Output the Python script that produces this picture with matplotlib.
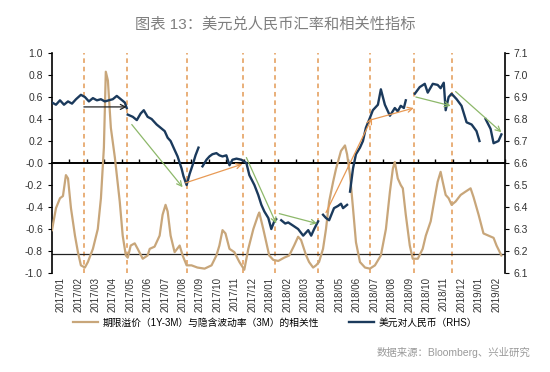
import matplotlib
matplotlib.use('Agg')
import matplotlib.pyplot as plt
import numpy as np

plt.rcParams['font.family'] = ['Liberation Sans', 'Noto Sans CJK SC']
plt.rcParams['axes.unicode_minus'] = False

nan = np.nan

# x axis: months, 0 = 2017/01
month_labels = ['2017/01', '2017/02', '2017/03', '2017/04', '2017/05', '2017/06',
                '2017/07', '2017/08', '2017/09', '2017/10', '2017/11', '2017/12',
                '2018/01', '2018/02', '2018/03', '2018/04', '2018/05', '2018/06',
                '2018/07', '2018/08', '2018/09', '2018/10', '2018/11', '2018/12',
                '2019/01', '2019/02']

# correlation: term premium (1Y-3M) vs implied vol (3M), left axis
corr_t = [-0.50, -0.27, -0.04, 0.13, 0.30, 0.42, 0.59, 0.82, 0.99, 1.16, 1.39, 1.56,
          1.85, 2.13, 2.31, 2.48, 2.59, 2.71, 2.88, 3.11, 3.39, 3.56, 3.74, 3.85,
          4.02, 4.25, 4.42, 4.71, 4.99, 5.11, 5.39, 5.68, 5.85, 6.02, 6.14, 6.31,
          6.54, 6.83, 7.00, 7.23, 7.51, 7.85, 8.26, 8.66, 8.94, 9.11, 9.29, 9.46,
          9.69, 9.97, 10.26, 10.54, 10.77, 11.06, 11.34, 11.40, 11.63, 11.80, 11.97,
          12.20, 12.49, 12.83, 13.12, 13.40, 13.63, 13.80, 14.09, 14.26, 14.49, 14.66,
          14.83, 15.06, 15.23, 15.41, 15.64, 15.81, 16.09, 16.32, 16.44, 16.61, 16.78,
          16.95, 17.18, 17.47, 17.75, 18.04, 18.38, 18.67, 18.90, 19.07, 19.18, 19.35,
          19.52, 19.64, 19.81, 20.04, 20.21, 20.50, 20.78, 20.96, 21.24, 21.47, 21.64,
          21.81, 21.93, 22.10, 22.27, 22.44, 22.67, 22.96, 23.24, 23.53, 23.70, 23.99,
          24.27, 24.56, 24.85, 25.02, 25.30]
corr_v = [-0.61, -0.41, -0.32, -0.30, -0.11, -0.14, -0.41, -0.66, -0.81, -0.93, -0.95, -0.90,
          -0.78, -0.60, -0.32, 0.14, 0.83, 0.75, 0.32, 0.05, -0.35, -0.66, -0.84, -0.86,
          -0.75, -0.73, -0.78, -0.87, -0.84, -0.78, -0.76, -0.66, -0.47, -0.38, -0.44, -0.66,
          -0.81, -0.75, -0.84, -0.93, -0.93, -0.95, -0.96, -0.93, -0.84, -0.75, -0.61, -0.64,
          -0.78, -0.81, -0.90, -0.97, -0.78, -0.60, -0.47, -0.45, -0.60, -0.72, -0.84,
          -0.88, -0.89, -0.86, -0.84, -0.75, -0.67, -0.70, -0.84, -0.90, -0.95, -0.93,
          -0.90, -0.78, -0.60, -0.35, -0.17, -0.05, 0.11, 0.16, 0.08, -0.11, -0.41,
          -0.72, -0.90, -0.95, -0.96, -0.93, -0.84, -0.60, -0.26, -0.05, 0.01, -0.14,
          -0.20, -0.23, -0.47, -0.75, -0.87, -0.87, -0.78, -0.66, -0.53, -0.32, -0.17,
          -0.08, -0.17, -0.29, -0.32, -0.38, -0.35, -0.29, -0.26, -0.23, -0.31, -0.47,
          -0.64, -0.66, -0.68, -0.75, -0.84]

# USD/CNY, right axis (nan = gap in the series)
fx_t = [-0.50, -0.27, -0.04, 0.19, 0.42, 0.65, 0.88, 1.16, 1.39, 1.62, 1.85, 2.08,
        2.31, 2.53, 2.76, 2.99, 3.22, 3.45, 3.68, 3.79, nan,
        3.85, 4.14, 4.37, 4.59, 4.77, 4.99, 5.22, 5.51, 5.74, 5.97, 6.14, 6.31,
        6.48, 6.71, 6.94, 7.05, 7.23, 7.40, 7.57, 7.74, 7.91, nan,
        8.14, 8.37, 8.54, 8.71, 8.94, 9.11, 9.29, 9.51, 9.69, 9.86, 10.09, 10.37,
        10.66, 10.83, 11.12, 11.34, 11.52, 11.69, 11.92, 12.09, 12.26, 12.37, nan,
        12.66, 12.89, 13.06, 13.35, 13.63, 13.92, 14.21, 14.38, 14.55, 14.78, nan,
        15.06, 15.23, 15.41, 15.69, 15.92, 16.09, 16.21, 16.44, nan,
        16.61, 16.78, 16.95, 17.18, 17.35, 17.52, 17.75, 17.92, 18.21, 18.38, 18.61,
        18.90, 19.18, 19.35, 19.52, 19.70, 19.81, nan,
        20.33, 20.61, 20.90, 21.07, 21.36, 21.64, 21.81, 21.99, 22.10, 22.27, 22.44,
        22.73, 23.01, 23.30, 23.59, 23.87, 24.04, nan,
        24.39, 24.68, 24.85, 25.13, 25.30]
fx_v = [6.875, 6.865, 6.885, 6.865, 6.88, 6.87, 6.89, 6.91, 6.90, 6.88, 6.895, 6.885,
        6.89, 6.88, 6.885, 6.89, 6.905, 6.89, 6.875, 6.85, nan,
        6.82, 6.81, 6.795, 6.825, 6.84, 6.81, 6.80, 6.775, 6.76, 6.745, 6.715, 6.70,
        6.67, 6.63, 6.575, 6.54, 6.50, 6.55, 6.59, 6.635, 6.67, nan,
        6.585, 6.615, 6.63, 6.64, 6.645, 6.635, 6.63, 6.635, 6.59, 6.615, 6.62, 6.615,
        6.60, 6.545, 6.50, 6.455, 6.41, 6.38, 6.35, 6.30, 6.335, 6.345, nan,
        6.34, 6.325, 6.33, 6.315, 6.30, 6.27, 6.295, 6.27, 6.30, 6.335, nan,
        6.365, 6.35, 6.34, 6.395, 6.405, 6.415, 6.395, 6.41, nan,
        6.47, 6.575, 6.64, 6.67, 6.70, 6.76, 6.805, 6.84, 6.865, 6.935, 6.865,
        6.815, 6.85, 6.835, 6.86, 6.85, 6.885, nan,
        6.915, 6.945, 6.96, 6.92, 6.96, 6.955, 6.94, 6.965, 6.84, 6.90, 6.915,
        6.89, 6.86, 6.785, 6.775, 6.745, 6.70, nan,
        6.80, 6.755, 6.69, 6.70, 6.73]

# dashed turning-point markers (month index)
turn_t = [1.33, 3.81, 7.24, 10.46, 12.32, 14.79, 17.73, 20.31, 22.46]
ref_level = -0.83

# trend arrows (start t, start v, end t, end v, colour), left-axis units
arrows = [
    (1.33, 0.51, 3.79, 0.51, 'black'),
    (4.08, 0.35, 7.00, -0.22, 'green'),
    (7.17, -0.18, 10.43, -0.01, 'orange'),
    (10.66, 0.05, 12.37, -0.55, 'green'),
    (12.55, -0.46, 14.72, -0.55, 'green'),
    (15.23, -0.45, 17.87, 0.41, 'orange'),
    (17.75, 0.39, 20.27, 0.50, 'orange'),
    (20.39, 0.60, 22.39, 0.52, 'green'),
    (22.67, 0.65, 25.30, 0.28, 'green'),
]
arrow_colors = {'black': '#222222', 'green': '#8DB86A', 'orange': '#E89A55'}

TAN = '#C8A67A'
NAVY = '#1B3A5C'
DASH = '#E39A55'

fig = plt.figure(figsize=(5.5, 3.72), dpi=100)
ax = fig.add_axes([0.0945, 0.266, 0.8235, 0.5915])
ax2 = ax.twinx()

ax.set_xlim(-0.5, 25.42)
ax.set_ylim(-1.0, 1.0)
ax2.set_ylim(6.1, 7.1)

for t in turn_t:
    ax.axvline(t, color=DASH, lw=1.1, ls=(0, (3, 2.5)), zorder=1)
ax.axhline(ref_level, color='#222222', lw=0.9, zorder=2)
ax.plot(corr_t, corr_v, color=TAN, lw=1.6, zorder=3)

ax2.plot(fx_t, fx_v, color=NAVY, lw=1.7, zorder=3)

for x0, y0, x1, y1, c in arrows:
    ax2.annotate('', xy=(x1, y1), xytext=(x0, y0),
                 xycoords=ax.transData, textcoords=ax.transData,
                 arrowprops=dict(arrowstyle='->', color=arrow_colors[c], lw=0.9,
                                 mutation_scale=9, shrinkA=0, shrinkB=0))

# zero line acts as the x axis with small upward ticks
for a in (ax, ax2):
    a.spines['top'].set_visible(False)
ax.spines['right'].set_visible(False)
ax2.spines['left'].set_visible(False)
ax2.spines['bottom'].set_visible(False)
ax.spines['bottom'].set_position(('data', 0))
ax.spines['bottom'].set_linewidth(1.4)
ax.set_xticks(np.arange(26) + 0.5)
ax.tick_params(axis='x', direction='in', length=3, width=1, labelbottom=False)

sec = ax.secondary_xaxis('bottom')
sec.set_xticks(np.arange(26), month_labels)
sec.tick_params(axis='x', length=0, labelsize=7, rotation=90, pad=3, labelcolor='#333333')
sec.spines['bottom'].set_visible(False)

ax.set_yticks(np.arange(-1.0, 1.01, 0.2))
ax.yaxis.set_major_formatter(matplotlib.ticker.FormatStrFormatter('%.1f'))
ax.tick_params(axis='y', direction='out', length=3, labelsize=7.5, labelcolor='#333333')
ax2.set_yticks(np.arange(6.1, 7.11, 0.1))
ax2.yaxis.set_major_formatter(matplotlib.ticker.FormatStrFormatter('%.1f'))
ax2.tick_params(axis='y', direction='out', length=3, labelsize=7.5, labelcolor='#333333')
ax.spines['left'].set_linewidth(1.2)
ax2.spines['right'].set_linewidth(1.2)

fig.text(0.5, 0.935, '图表 13：美元兑人民币汇率和相关性指标', ha='center', va='center',
         fontsize=11, color='#7f7f7f')

h1, = ax.plot([], [], color=TAN, lw=1.6)
h2, = ax.plot([], [], color=NAVY, lw=1.7)
fig.legend([h1, h2], ['期限溢价（1Y-3M）与隐含波动率（3M）的相关性', '美元对人民币（RHS）'],
           loc='center', bbox_to_anchor=(0.5, 0.132), ncol=2, frameon=False,
           fontsize=7, handlelength=2.6, columnspacing=3.0, handletextpad=0.5)

fig.text(0.965, 0.052, '数据来源：Bloomberg、兴业研究', ha='right', va='center',
         fontsize=7.5, color='#9a9a9a')

fig.savefig('out.png', dpi=100, facecolor='white')
